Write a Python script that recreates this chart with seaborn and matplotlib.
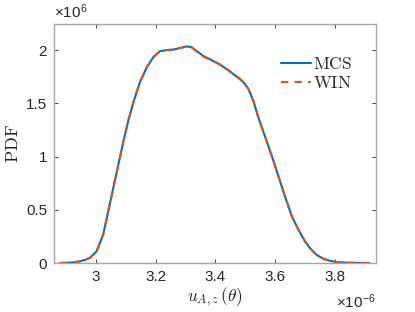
import numpy as np
import pandas as pd
import seaborn as sns
from matplotlib import pyplot as plt

# values (x in units of 1e-6, pdf in units of 1e6)
u_vals = [2.880, 2.910, 2.940, 2.965, 2.981, 3.003, 3.025, 3.042, 3.059, 3.076,
          3.092, 3.109, 3.126, 3.148, 3.171, 3.193, 3.215, 3.238, 3.260, 3.282,
          3.305, 3.322, 3.338, 3.360, 3.389, 3.416, 3.444, 3.472, 3.494, 3.511,
          3.528, 3.545, 3.567, 3.590, 3.612, 3.634, 3.657, 3.679, 3.701, 3.720,
          3.740, 3.762, 3.785, 3.810, 3.840, 3.880, 3.915]
pdf_mcs = [0.0, 0.003, 0.012, 0.030, 0.05, 0.11, 0.27, 0.49, 0.71, 0.93,
           1.135, 1.34, 1.51, 1.70, 1.84, 1.935, 1.99, 2.00, 2.005, 2.02,
           2.035, 2.026, 1.99, 1.945, 1.904, 1.864, 1.81, 1.75, 1.70, 1.635,
           1.52, 1.36, 1.185, 1.0, 0.81, 0.62, 0.434, 0.31, 0.20, 0.13,
           0.075, 0.04, 0.02, 0.008, 0.003, 0.001, 0.0]
pdf_win = [0.0, 0.003, 0.012, 0.030, 0.05, 0.11, 0.27, 0.49, 0.71, 0.93,
           1.135, 1.34, 1.51, 1.70, 1.84, 1.935, 1.99, 2.00, 2.005, 2.02,
           2.035, 2.024, 1.985, 1.94, 1.904, 1.864, 1.81, 1.755, 1.70, 1.635,
           1.52, 1.36, 1.185, 1.0, 0.81, 0.62, 0.434, 0.31, 0.20, 0.13,
           0.075, 0.04, 0.02, 0.008, 0.003, 0.001, 0.0]
x_ticks = [3.0, 3.2, 3.4, 3.6, 3.8]
x_ticklabels = ["3", "3.2", "3.4", "3.6", "3.8"]
y_ticks = [0, 0.5, 1, 1.5, 2]
y_ticklabels = ["0", "0.5", "1", "1.5", "2"]

sns.set_style("ticks")
plt.rcParams['font.family'] = ['Liberation Sans', 'DejaVu Sans']
plt.rcParams['mathtext.fontset'] = 'custom'
plt.rcParams['mathtext.rm'] = 'Liberation Sans'
plt.rcParams['mathtext.it'] = 'Liberation Sans:italic'

df = pd.DataFrame({"u": u_vals + u_vals,
                   "pdf": pdf_mcs + pdf_win,
                   "method": ["MCS"] * len(u_vals) + ["WIN"] * len(u_vals)})

fig = plt.figure(figsize=(4.15, 3.12), dpi=100)
ax = fig.add_axes([0.130, 0.157, 0.776, 0.766])

sns.lineplot(data=df[df.method == "MCS"], x="u", y="pdf", color="#0072BD",
             lw=1.5, ax=ax, label=r"$\mathrm{MCS}$")
sns.lineplot(data=df[df.method == "WIN"], x="u", y="pdf", color="#D95319",
             lw=1.5, ls=(0, (3.5, 3)), ax=ax, label=r"$\mathrm{WIN}$")

ax.set_xlim(2.86, 3.938)
ax.set_ylim(0, 2.245)
ax.set_xticks(x_ticks)
ax.set_xticklabels(x_ticklabels)
ax.set_yticks(y_ticks)
ax.set_yticklabels(y_ticklabels)

ax.tick_params(direction="in", top=True, right=True, length=3, width=0.6,
               color="#262626", labelcolor="#262626", labelsize=11)
ax.tick_params(axis="x", pad=5)
ax.tick_params(axis="y", pad=5)
for s in ax.spines.values():
    s.set_color("#a6a6a6")
    s.set_linewidth(1.0)

# exponent labels, MATLAB style
ax.text(0.0, 1.012, r"$\times10^{6}$", transform=ax.transAxes, fontsize=11,
        color="#262626", ha="left", va="bottom")
ax.text(1.0, -0.125, r"$\times10^{-6}$", transform=ax.transAxes, fontsize=11,
        color="#262626", ha="right", va="top")

ax.set_xlabel(r"$u_{A,z}\,(\theta)$", fontsize=12.5, math_fontfamily="cm", labelpad=1)
ax.set_ylabel(r"$\mathrm{PDF}$", fontsize=13, math_fontfamily="cm", labelpad=3)

leg = ax.legend(loc="upper right", bbox_to_anchor=(0.975, 0.93), frameon=False,
                fontsize=12.5, handlelength=1.7, handletextpad=0.15, labelspacing=0.15)
for t in leg.get_texts():
    t.set_math_fontfamily("cm")

fig.savefig("out.png", dpi=100)
